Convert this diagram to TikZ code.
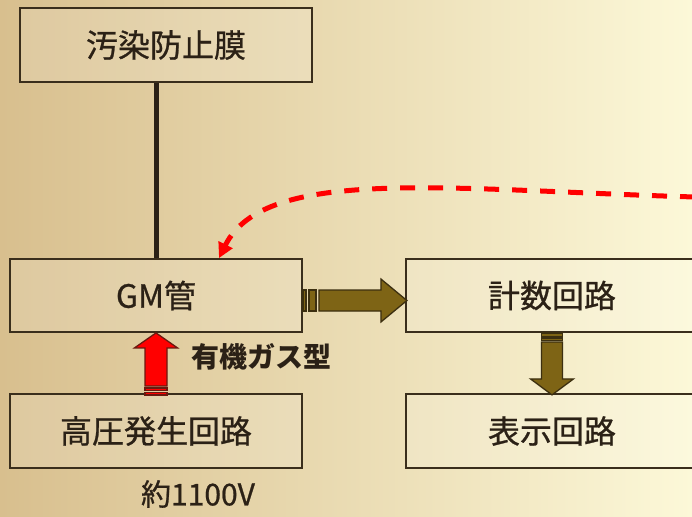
\documentclass[tikz,border=0pt]{standalone}
\usepackage{fontspec}
\newfontfamily\cjk[FakeBold=0.8]{Noto Sans CJK JP}
\newfontfamily\cjkbold{Noto Sans CJK JP}
\usetikzlibrary{arrows.meta,calc}
\definecolor{bgL}{HTML}{D8BF8E}
\definecolor{bgM}{HTML}{F1E6BB}
\definecolor{bgR}{HTML}{FCF8D8}
\definecolor{boxc}{HTML}{3A2E1C}
\definecolor{txt}{HTML}{2B2116}
\definecolor{olive}{HTML}{7E6415}
\definecolor{oliveb}{HTML}{3C2F10}
\definecolor{redc}{HTML}{FF0000}
\definecolor{redb}{HTML}{6A1A10}
\begin{document}
\begin{tikzpicture}[x=1pt,y=-1pt,
  box/.style={draw=boxc, line width=1.8pt, fill=white, fill opacity=0.15, text opacity=1,
    minimum width=292pt, minimum height=73pt, inner sep=0pt, text=txt,
    font=\cjk\fontsize{32}{36}\selectfont},
  lbl/.style={inner sep=0pt, text=txt, font=\cjk\fontsize{30}{34}\selectfont},
  olivearrow/.style={fill=olive, draw=oliveb, line width=1.3pt, line join=miter},
  redarrow/.style={fill=redc, draw=redb, line width=1.3pt, line join=miter},
  dashc/.style={draw=redc, line width=5pt, dash pattern=on 15pt off 13pt, -{Triangle[length=15pt,width=15pt]}}
]
\useasboundingbox (0,0) rectangle (692,516);
\shade[left color=bgL, middle color=bgM, right color=bgR] (0,0) rectangle (692,516);

\node[box, minimum height=74pt] (film) at (166,45) {汚染防止膜};
\node[box] (gm) at (156,295.5) {GM管};
\node[box] (cnt) at (552,295.5) {計数回路};
\node[box, minimum height=74pt] (hv) at (156,431) {高圧発生回路};
\node[box, minimum height=74pt] (disp) at (552,431) {表示回路};
\node[lbl, font=\cjkbold\bfseries\fontsize{28}{32}\selectfont, anchor=west] (org) at (191,357) {有機ガス型};
\node[lbl] (volt) at (198,494) {約1100V};

% film to GM
\draw[draw=txt, line width=5pt] (gm.north) -- (gm.north |- film.south);

% right striped arrow GM -> counter
\begin{scope}[shift={(gm.east)}]
  \draw[olivearrow] (0,-5.5) rectangle (3,15.5);
  \draw[olivearrow] (6,-5.5) rectangle (13,15.5);
  \draw[olivearrow] (16,-5.5) -- (78,-5.5) -- (78,-16.5) -- (104,5) -- (78,26.5) -- (78,15.5) -- (16,15.5) -- cycle;
\end{scope}

% up striped arrow HV -> GM
\begin{scope}[shift={(gm.south)}]
  \draw[redarrow] (-11,59.5) rectangle (11,62);
  \draw[redarrow] (-11,55) rectangle (11,57.5);
  \draw[redarrow] (0,0) -- (21.5,15) -- (11,15) -- (11,53) -- (-11,53) -- (-11,15) -- (-21.5,15) -- cycle;
\end{scope}

% down striped arrow counter -> display
\begin{scope}[shift={(cnt.south)}]
  \draw[olivearrow] (-10.5,0) rectangle (10.5,3.5);
  \draw[olivearrow] (-10.5,5) rectangle (10.5,7.5);
  \draw[olivearrow] (-10.5,9) -- (10.5,9) -- (10.5,46) -- (21.5,46) -- (0,62) -- (-21.5,46) -- (-10.5,46) -- cycle;
\end{scope}

% dashed feedback curve
\coordinate (src) at (695,197);
\draw[dashc] (src) .. controls (450,190) and (265,165) .. ([xshift=63pt]gm.north);
\end{tikzpicture}
\end{document}
